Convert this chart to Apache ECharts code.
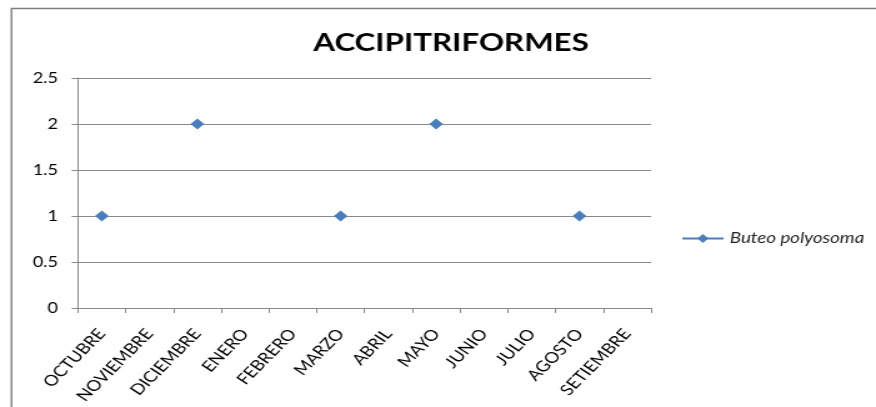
<!DOCTYPE html>
<html>
<head>
<meta charset="utf-8">
<script src="https://cdn.jsdelivr.net/npm/echarts@6/dist/echarts.min.js"></script>
<style>
  html, body { margin: 0; padding: 0; background: #fff; overflow: hidden; }
  /* The chart is laid out narrower and widened horizontally, like a stretched spreadsheet chart */
  #chart {
    width: 701px;
    height: 407px;
    transform: scaleX(1.2496);
    transform-origin: 0 0;
  }
</style>
</head>
<body>
<div id="chart"></div>
<script>
// Monthly sightings, October to September
const months = ['OCTUBRE', 'NOVIEMBRE', 'DICIEMBRE', 'ENERO', 'FEBRERO', 'MARZO',
                'ABRIL', 'MAYO', 'JUNIO', 'JULIO', 'AGOSTO', 'SETIEMBRE'];
const buteoPolyosoma = [1, null, 2, null, null, 1, null, 2, null, null, 1, null];
const seriesName = 'Buteo polyosoma';
const chartTitle = 'ACCIPITRIFORMES';

const FONT = 'Lato, "Open Sans", sans-serif';
const GRAY = '#898989';
const BLUE = '#4a7ebb';

const chart = echarts.init(document.getElementById('chart'), null, { renderer: 'canvas' });

chart.setOption({
  animation: false,
  backgroundColor: '#ffffff',
  graphic: [{
    type: 'rect',
    shape: { x: 9.2, y: 8.5, width: 800, height: 450 },
    style: { fill: 'none', stroke: '#7f7f7f', lineWidth: 1.4 },
    silent: true
  }],
  title: {
    text: chartTitle,
    left: 356,
    top: 25,
    textAlign: 'center',
    textStyle: { fontFamily: FONT, fontWeight: 'bold', fontSize: 25, color: '#000' }
  },
  grid: { left: 62.4, right: 180, top: 78, bottom: 99, containLabel: false },
  legend: {
    left: 545,
    top: 231,
    padding: 0,
    itemWidth: 33,
    itemHeight: 11,
    data: [seriesName],
    textStyle: { fontFamily: FONT, fontStyle: 'italic', fontSize: 15, color: '#222' }
  },
  xAxis: {
    type: 'category',
    data: months,
    boundaryGap: true,
    axisLine: { lineStyle: { color: GRAY, width: 1 } },
    axisTick: { show: true, length: 5, lineStyle: { color: GRAY } },
    axisLabel: {
      rotate: 51,
      margin: 23,
      interval: 0,
      fontFamily: FONT,
      fontSize: 15,
      color: '#000'
    },
    splitLine: { show: false }
  },
  yAxis: {
    type: 'value',
    min: 0,
    max: 2.5,
    interval: 0.5,
    axisLine: { show: true, lineStyle: { color: GRAY, width: 1 } },
    axisTick: { show: true, length: 5, lineStyle: { color: GRAY } },
    axisLabel: { margin: 16, fontFamily: FONT, fontSize: 14.5, color: '#000' },
    splitLine: { show: true, lineStyle: { color: GRAY, width: 1 } }
  },
  series: [{
    name: seriesName,
    type: 'line',
    data: buteoPolyosoma,
    connectNulls: false,
    showSymbol: true,
    symbol: 'diamond',
    symbolSize: 11,
    itemStyle: { color: BLUE },
    lineStyle: { color: BLUE, width: 2.5 }
  }]
});
</script>
</body>
</html>
